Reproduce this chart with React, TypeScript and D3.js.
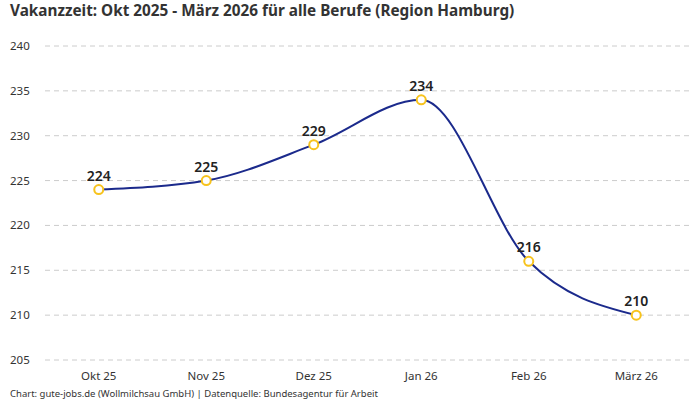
import React, {useEffect, useRef} from "react";
import * as d3 from "d3";

const months = ["Okt 25", "Nov 25", "Dez 25", "Jan 26", "Feb 26", "März 26"];
const vacancyDays = [224, 225, 229, 234, 216, 210];
const yTicks = [205, 210, 215, 220, 225, 230, 235, 240];

const title = "Vakanzzeit: Okt 2025 - März 2026 für alle Berufe (Region Hamburg)";
const footer = "Chart: gute-jobs.de (Wollmilchsau GmbH) | Datenquelle: Bundesagentur für Arbeit";

const App: React.FC = () => {
    const svgRef = useRef<SVGSVGElement | null>(null);

    useEffect(() => {
        if (!svgRef.current) return;
        const svg = d3.select(svgRef.current);
        svg.selectAll("*").remove();

        const width = 700;
        const height = 400;
        const margin = {top: 46, right: 10, bottom: 40, left: 45};
        const font = "'Noto Sans', sans-serif";

        const x = d3
            .scaleBand()
            .domain(months)
            .range([margin.left, width - margin.right]);

        const y = d3
            .scaleLinear()
            .domain([205, 240])
            .range([height - margin.bottom, margin.top]);

        const cx = (m: string) => (x(m) || 0) + x.bandwidth() / 2;

        svg.append("text")
            .attr("x", 10)
            .attr("y", 16)
            .attr("font-family", font)
            .attr("font-size", "15.3px")
            .attr("font-weight", "bold")
            .attr("fill", "#333")
            .text(title);

        // grid + y labels
        const grid = svg.append("g");
        grid.selectAll("line")
            .data(yTicks)
            .join("line")
            .attr("x1", margin.left)
            .attr("x2", width - margin.right)
            .attr("y1", (d) => y(d))
            .attr("y2", (d) => y(d))
            .attr("stroke", "#cccccc")
            .attr("stroke-width", 1)
            .attr("stroke-dasharray", "5,4");

        grid.selectAll("text")
            .data(yTicks)
            .join("text")
            .attr("x", 10)
            .attr("y", (d) => y(d))
            .attr("dy", "0.35em")
            .attr("font-family", font)
            .attr("font-size", "11.5px")
            .attr("fill", "#333")
            .text((d) => d);

        // x labels
        svg.append("g")
            .selectAll("text")
            .data(months)
            .join("text")
            .attr("x", (d) => cx(d))
            .attr("y", 380)
            .attr("text-anchor", "middle")
            .attr("font-family", font)
            .attr("font-size", "11.5px")
            .attr("fill", "#333")
            .text((d) => d);

        const points = months.map((m, i) => ({m, v: vacancyDays[i]}));

        const line = d3
            .line<{ m: string, v: number }>()
            .x((d) => cx(d.m))
            .y((d) => y(d.v))
            .curve(d3.curveMonotoneX);

        svg.append("path")
            .datum(points)
            .attr("d", line)
            .attr("fill", "none")
            .attr("stroke", "#1b2a8c")
            .attr("stroke-width", 2);

        svg.append("g")
            .selectAll("circle")
            .data(points)
            .join("circle")
            .attr("cx", (d) => cx(d.m))
            .attr("cy", (d) => y(d.v))
            .attr("r", 4.5)
            .attr("fill", "#fff")
            .attr("stroke", "#f7c31d")
            .attr("stroke-width", 2);

        svg.append("g")
            .selectAll("text")
            .data(points)
            .join("text")
            .attr("x", (d) => cx(d.m))
            .attr("y", (d) => y(d.v) - 9)
            .attr("text-anchor", "middle")
            .attr("font-family", font)
            .attr("font-size", "14px")
            .attr("font-weight", "600")
            .attr("fill", "#222")
            .text((d) => d.v);

        svg.append("text")
            .attr("x", 10)
            .attr("y", 397)
            .attr("font-family", font)
            .attr("font-size", "9.5px")
            .attr("fill", "#333")
            .text(footer);
    }, []);

    return (
        <div style={{position: "fixed", top: 0, left: 0, width: 700, height: 400, background: "#fff"}}>
            <svg ref={svgRef} width={700} height={400} viewBox="0 0 700 400"></svg>
        </div>
    );
};

export default App;
